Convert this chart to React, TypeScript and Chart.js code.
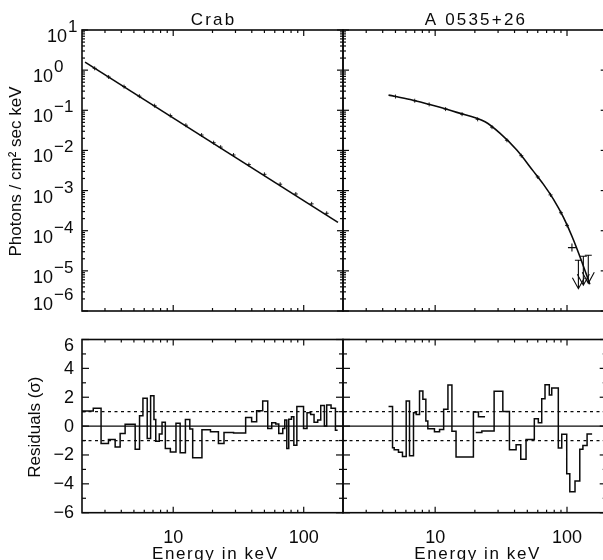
import React, { useEffect, useRef } from "react";
import { Chart, registerables } from "chart.js";

Chart.register(...registerables);

// ===================== DATA =====================
const panelTitles = ["Crab", "A 0535+26"];
const xAxisTitle = "Energy in keV";
const spectrumAxisTitle = "Photons / cm² sec keV";
const residualAxisTitle = "Residuals (σ)";

const energyRange = [2, 200];
const fluxRange = [1e-6, 10];
const residualRange = [-6, 6];

const energyMajorTicks = [10, 100];
const energyTickLabels = ["10", "100"];
const energyMinorTicks = [3, 4, 5, 6, 7, 8, 9, 20, 30, 40, 50, 60, 70, 80, 90];
const fluxDecadeExponents = [-6, -5, -4, -3, -2, -1, 0, 1];
const fluxExponentLabels = ["−6", "−5", "−4", "−3", "−2", "−1", "0", "1"];
const fluxMinorMultipliers = [2, 3, 4, 5, 6, 7, 8, 9];
const residualMajorTicks = [-6, -4, -2, 0, 2, 4, 6];
const residualTickLabels = ["−6", "−4", "−2", "0", "2", "4", "6"];
const residualMinorTicks = [-5, -3, -1, 1, 3, 5];
const sigmaBands = [-1, 1];

// Crab spectrum (model line + data crosses)
const crabModelEnergy = [2.11, 183];
const crabModelFlux = [1.59, 1.62e-4];
const crabDataEnergy = [2.5, 3.2, 4.2, 5.5, 7.2, 9.5, 12.5, 16.5, 20.4, 23.1, 29, 38, 50, 66, 87, 115, 150];
const crabDataFlux = [1.11, 0.675, 0.389, 0.225, 0.13, 0.0739, 0.0424, 0.0242, 0.0156, 0.0121, 7.69e-3, 4.43e-3, 2.54e-3, 1.44e-3, 8.22e-4, 4.67e-4, 2.72e-4];

// A 0535+26 spectrum
const a0535ModelEnergy = [4.43, 6.47, 9.71, 14.6, 23.9, 31.1, 41.6, 55.5, 66.1, 78.8, 93.8, 109, 125, 149];
const a0535ModelFlux = [0.239, 0.185, 0.131, 0.0887, 0.0516, 0.0265, 0.0102, 3.05e-3, 1.445e-3, 6.1e-4, 2.17e-4, 7.3e-5, 2.31e-5, 4.63e-6];
const a0535DataEnergy = [5.0, 7.0, 9.0, 12.0, 16.0, 21.0, 27.0, 35.0, 45.0, 60.0, 75.0, 90.0, 100];
const a0535DataFlux = [0.22, 0.173, 0.14, 0.107, 0.08, 0.0595, 0.038, 0.0179, 7.4e-3, 2.18e-3, 7.8e-4, 2.8e-4, 1.36e-4];
const a0535LooseEnergy = [109];
const a0535LooseFlux = [3.8e-5];
const a0535LimitEnergy = [122, 133, 145];
const a0535LimitFlux = [1.84e-5, 2.31e-5, 2.45e-5];
const a0535LimitTip = [3.6e-6, 4.4e-6, 4.9e-6];

// Crab residuals (histogram: bin edges in keV, values in sigma)
const crabResEdges = [2.0, 2.44, 2.8, 3.19, 3.59, 3.92, 4.28, 5.11, 5.52, 5.86, 6.32, 6.71, 7.12, 7.35, 7.82, 8.21, 8.7, 9.51, 10.5, 11.3, 12.4, 13.4, 14.1, 16.6, 19.3, 22.2, 24.5, 29.0, 35.9, 39.9, 43.6, 48.5, 53.0, 56.9, 61.0, 64.4, 69.1, 71.6, 74.2, 76.8, 80.6, 84.0, 88.6, 99.7, 106, 113, 120, 128, 135, 144, 150, 162, 175, 182];
const crabResValues = [1.05, 1.23, -1.2, -0.93, -1.44, -0.51, 0.12, -1.6, 0.72, 1.93, -0.86, 2.1, 0.45, -1.05, -0.55, 0.26, -1.56, -1.79, 0.2, -1.85, 0.45, -0.2, -2.19, -0.25, -0.4, -1.2, -0.44, -0.47, 0.6, 0.3, 1.07, 1.74, -0.16, 0.23, 0.14, -0.51, -0.16, 0.42, -1.56, 0.47, 0.65, -1.33, 1.35, -0.16, 0.93, 0.8, 0.26, 0.42, 1.42, 0, 1.46, 1.23, -0.28];

// A 0535+26 residuals (two histogram segments)
const a0535ResEdgesA = [4.43, 4.75, 4.89, 5.27, 5.65, 6.03, 6.39, 6.85, 7.18, 7.61, 8.07, 8.5, 8.8, 9.88, 10.8, 11.6, 12.5, 13.4, 14.4, 19.5, 21.3, 23.9];
const a0535ResValuesA = [1.35, -1.5, -1.63, -1.81, -2.1, 1.74, -2.05, 0.93, 0.81, 2.44, 1.86, 0.35, -0.19, -0.4, -0.23, 1.16, 2.84, -0.35, -2.14, 0.98, 0.64];
const a0535ResEdgesB = [20.3, 22.6, 28.0, 32.6, 36.6, 41.1, 44.6, 48.9, 56.5, 60.6, 64.3, 68.1, 73.4, 76.6, 85.9, 91.2, 99.5, 105, 115, 125, 132, 142, 155];
const a0535ResValuesB = [-0.45, -0.34, 2.41, 1.01, -1.63, -1.29, -2.3, -0.92, 0.51, 0.23, 1.89, 2.87, 2.16, 2.64, -1.52, -0.57, -3.3, -4.55, -3.8, -1.6, -1.35, -0.55];

// ===================== STYLE / LAYOUT =====================
const INK = "#0a0a0a";
const FONT = '"Liberation Sans", Arial, Helvetica, sans-serif';
const CANVAS_W = 612;
const CANVAS_H = 560;

type Box = { left: number; top: number; right: number; bottom: number };
const BOX_TL: Box = { left: 82, top: 30, right: 343, bottom: 311 };
const BOX_TR: Box = { left: 343, top: 30, right: 606.7, bottom: 311 };
const BOX_BL: Box = { left: 82, top: 339.5, right: 343, bottom: 512.7 };
const BOX_BR: Box = { left: 343, top: 339.5, right: 606.7, bottom: 512.7 };

const pts = (xs: number[], ys: number[]) => xs.map((x, i) => ({ x, y: ys[i] }));
const histPts = (edges: number[], vals: number[]) => {
  const out = vals.map((v, i) => ({ x: edges[i], y: v }));
  out.push({ x: edges[edges.length - 1], y: vals[vals.length - 1] });
  return out;
};
const hline = (y: number) => [{ x: energyRange[0], y }, { x: energyRange[1], y }];

function drawText(
  ctx: CanvasRenderingContext2D,
  s: string,
  x: number,
  y: number,
  size: number,
  align: CanvasTextAlign,
  spacing = 0,
  baseline: CanvasTextBaseline = "alphabetic"
) {
  ctx.font = `${size}px ${FONT}`;
  ctx.textAlign = align;
  ctx.textBaseline = baseline;
  (ctx as any).letterSpacing = `${spacing}px`;
  const dx = align === "center" ? spacing / 2 : 0;
  ctx.fillText(s, x + dx, y);
  (ctx as any).letterSpacing = "0px";
}

type Spec = {
  kind: "flux" | "residual";
  yLabels: boolean;
  xLabels: boolean;
  title?: string;
  xTitle?: string;
  yTitle?: string;
};

function axesPlugin(spec: Spec) {
  return {
    id: "panelAxes",
    afterDraw(chart: any) {
      const ctx: CanvasRenderingContext2D = chart.ctx;
      const a = chart.chartArea;
      const xs = chart.scales.x;
      const ys = chart.scales.y;
      ctx.save();
      ctx.strokeStyle = INK;
      ctx.fillStyle = INK;
      const seg = (x1: number, y1: number, x2: number, y2: number) => {
        ctx.beginPath();
        ctx.moveTo(x1, y1);
        ctx.lineTo(x2, y2);
        ctx.stroke();
      };
      ctx.lineWidth = 1.2;
      const xMaj = 6, xMin = 3;
      energyMajorTicks.forEach((v) => {
        const p = xs.getPixelForValue(v);
        seg(p, a.bottom, p, a.bottom - xMaj);
        seg(p, a.top, p, a.top + xMaj);
      });
      energyMinorTicks.forEach((v) => {
        const p = xs.getPixelForValue(v);
        seg(p, a.bottom, p, a.bottom - xMin);
        seg(p, a.top, p, a.top + xMin);
      });
      let yMajor: number[] = [];
      let yMinor: number[] = [];
      let yMaj = 6, yMin = 3;
      if (spec.kind === "flux") {
        yMajor = fluxDecadeExponents.map((e) => Math.pow(10, e));
        fluxDecadeExponents.slice(0, -1).forEach((e) =>
          fluxMinorMultipliers.forEach((m) => yMinor.push(m * Math.pow(10, e)))
        );
      } else {
        yMajor = residualMajorTicks;
        yMinor = residualMinorTicks;
        yMaj = 7;
        yMin = 4;
      }
      yMajor.forEach((v) => {
        const p = ys.getPixelForValue(v);
        seg(a.left, p, a.left + yMaj, p);
        seg(a.right, p, a.right - yMaj, p);
      });
      yMinor.forEach((v) => {
        const p = ys.getPixelForValue(v);
        seg(a.left, p, a.left + yMin, p);
        seg(a.right, p, a.right - yMin, p);
      });
      ctx.lineWidth = 1.6;
      ctx.strokeRect(a.left, a.top, a.right - a.left, a.bottom - a.top);

      if (spec.yLabels) {
        if (spec.kind === "flux") {
          fluxDecadeExponents.forEach((e, i) => {
            const p = ys.getPixelForValue(Math.pow(10, e));
            const x0 = e > 0 ? 47 : 33;
            const base = e === fluxDecadeExponents[0] ? p - 1 : p + 12;
            drawText(ctx, "10", x0, base, 18, "left");
            ctx.font = `18px ${FONT}`;
            const w = ctx.measureText("10").width;
            drawText(ctx, fluxExponentLabels[i], x0 + w + 1, base - 10, 17, "left");
          });
        } else {
          residualMajorTicks.forEach((v, i) => {
            const p = ys.getPixelForValue(v);
            const y = Math.max(p, a.top + 6.5);
            drawText(ctx, residualTickLabels[i], 74, y + 0.5, 18, "right", 0, "middle");
          });
        }
      }
      if (spec.xLabels) {
        energyMajorTicks.forEach((v, i) => {
          const p = xs.getPixelForValue(v);
          drawText(ctx, energyTickLabels[i], p, 543, 18, "center");
        });
      }
      const cx = (a.left + a.right) / 2;
      if (spec.title) drawText(ctx, spec.title, cx, 25, 17, "center", 2.2);
      if (spec.xTitle) drawText(ctx, spec.xTitle, cx + 2, 559, 17, "center", 1.6);
      if (spec.yTitle) {
        const cy = (a.top + a.bottom) / 2;
        const bx = spec.kind === "flux" ? 21 : 40;
        ctx.save();
        ctx.translate(bx, cy + 1);
        ctx.rotate(-Math.PI / 2);
        drawText(ctx, spec.yTitle, 0, 0, 17, "center", 0);
        ctx.restore();
      }
      ctx.restore();
    },
  };
}

const limitPlugin = {
  id: "upperLimits",
  afterDatasetsDraw(chart: any) {
    const ctx: CanvasRenderingContext2D = chart.ctx;
    const xs = chart.scales.x;
    const ys = chart.scales.y;
    ctx.save();
    ctx.strokeStyle = INK;
    ctx.lineWidth = 1.1;
    a0535LimitEnergy.forEach((e, i) => {
      const px = xs.getPixelForValue(e);
      const pt = ys.getPixelForValue(a0535LimitFlux[i]);
      const pb = ys.getPixelForValue(a0535LimitTip[i]);
      ctx.beginPath();
      ctx.moveTo(px - 3.5, pt);
      ctx.lineTo(px + 3.5, pt);
      ctx.moveTo(px, pt);
      ctx.lineTo(px, pb);
      ctx.moveTo(px - 6, pb - 11);
      ctx.lineTo(px, pb);
      ctx.lineTo(px + 6, pb - 11);
      ctx.stroke();
    });
    ctx.restore();
  },
};

function baseOptions(box: Box, yType: "logarithmic" | "linear", yr: number[]) {
  return {
    responsive: false,
    animation: false,
    devicePixelRatio: 1,
    events: [],
    layout: {
      padding: {
        left: box.left,
        top: box.top,
        right: CANVAS_W - box.right,
        bottom: CANVAS_H - box.bottom,
      },
    },
    plugins: { legend: { display: false }, tooltip: { enabled: false }, title: { display: false } },
    scales: {
      x: { type: "logarithmic", min: energyRange[0], max: energyRange[1], display: false },
      y: { type: yType, min: yr[0], max: yr[1], display: false },
    },
  };
}

const lineDs = (data: any[], extra: any = {}) => ({
  data,
  borderColor: INK,
  backgroundColor: INK,
  borderWidth: 1.6,
  pointRadius: 0,
  fill: false,
  ...extra,
});

const crossDs = (data: any[], r: number, w = 0.9) => ({
  data,
  showLine: false,
  pointStyle: "cross",
  pointRadius: r,
  borderColor: INK,
  borderWidth: w,
});

const residualGuides = () => [
  lineDs(hline(0), { borderWidth: 1.3 }),
  ...sigmaBands.map((s) => lineDs(hline(s), { borderWidth: 1.2, borderDash: [3, 3.5] })),
];

function buildTL() {
  return {
    type: "line",
    data: {
      datasets: [
        lineDs(pts(crabModelEnergy, crabModelFlux)),
        crossDs(pts(crabDataEnergy, crabDataFlux), 2),
      ],
    },
    options: baseOptions(BOX_TL, "logarithmic", fluxRange),
    plugins: [axesPlugin({ kind: "flux", yLabels: true, xLabels: false, title: panelTitles[0], yTitle: spectrumAxisTitle })],
  };
}

function buildTR() {
  return {
    type: "line",
    data: {
      datasets: [
        lineDs(pts(a0535ModelEnergy, a0535ModelFlux), { cubicInterpolationMode: "monotone" }),
        crossDs(pts(a0535DataEnergy, a0535DataFlux), 2),
        crossDs(pts(a0535LooseEnergy, a0535LooseFlux), 4, 1.1),
      ],
    },
    options: baseOptions(BOX_TR, "logarithmic", fluxRange),
    plugins: [limitPlugin, axesPlugin({ kind: "flux", yLabels: false, xLabels: false, title: panelTitles[1] })],
  };
}

function buildBL() {
  return {
    type: "line",
    data: {
      datasets: [
        ...residualGuides(),
        lineDs(histPts(crabResEdges, crabResValues), { stepped: true, borderWidth: 1.5 }),
      ],
    },
    options: baseOptions(BOX_BL, "linear", residualRange),
    plugins: [axesPlugin({ kind: "residual", yLabels: true, xLabels: true, xTitle: xAxisTitle, yTitle: residualAxisTitle })],
  };
}

function buildBR() {
  return {
    type: "line",
    data: {
      datasets: [
        ...residualGuides(),
        lineDs(histPts(a0535ResEdgesA, a0535ResValuesA), { stepped: true, borderWidth: 1.5 }),
        lineDs(histPts(a0535ResEdgesB, a0535ResValuesB), { stepped: true, borderWidth: 1.5 }),
      ],
    },
    options: baseOptions(BOX_BR, "linear", residualRange),
    plugins: [axesPlugin({ kind: "residual", yLabels: false, xLabels: true, xTitle: xAxisTitle })],
  };
}

function Panel({ build }: { build: () => any }) {
  const ref = useRef<HTMLCanvasElement>(null);
  useEffect(() => {
    if (!ref.current) return;
    const chart = new Chart(ref.current, build());
    return () => chart.destroy();
  }, [build]);
  return (
    <canvas
      ref={ref}
      width={CANVAS_W}
      height={CANVAS_H}
      style={{ position: "absolute", left: 0, top: 0, width: CANVAS_W, height: CANVAS_H }}
    />
  );
}

export default function App() {
  return (
    <div
      style={{
        position: "absolute",
        left: 0,
        top: 0,
        width: 603,
        height: 560,
        overflow: "hidden",
        background: "#ffffff",
      }}
    >
      <Panel build={buildTL} />
      <Panel build={buildTR} />
      <Panel build={buildBL} />
      <Panel build={buildBR} />
    </div>
  );
}
